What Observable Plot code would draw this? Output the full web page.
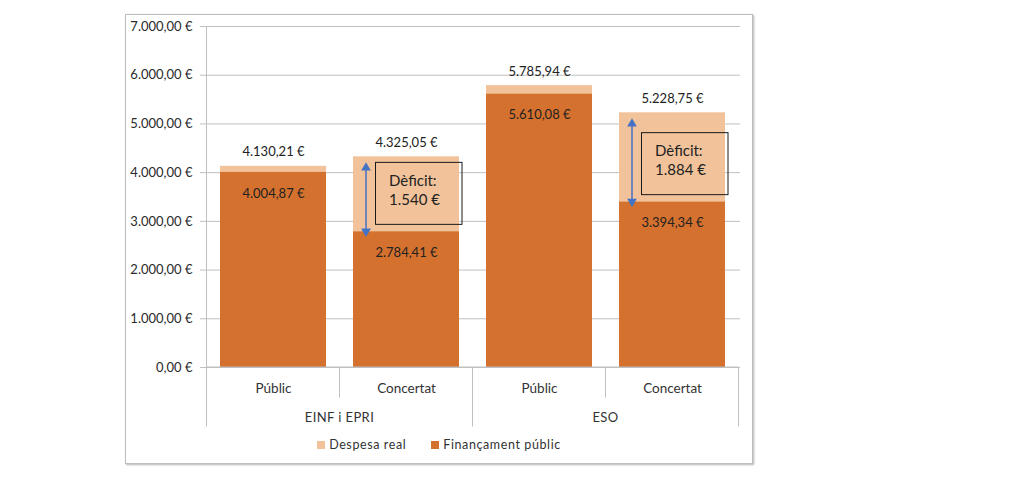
<!DOCTYPE html>
<html>
<head>
<meta charset="utf-8">
<script src="https://cdn.jsdelivr.net/npm/d3@7"></script>
<script src="https://cdn.jsdelivr.net/npm/@observablehq/plot@0.6"></script>
<style>
  body { margin: 0; background: #fff; font-family: Lato, "Noto Sans", sans-serif; }
  #frame {
    position: absolute; left: 125px; top: 14px; width: 626px; height: 448px;
    border: 1px solid #bdbdbd; box-shadow: 1px 1px 2px rgba(0,0,0,0.3); background: #fff;
  }
  #chart svg { display: block; }
  #legend {
    position: absolute; left: 0; right: 0; top: 423px; display: flex; justify-content: center;
    gap: 25px; font-size: 12.5px; line-height: 14px; color: #333; letter-spacing: 0.6px;
  }
  #legend span.item { display: flex; align-items: center; }
  #legend i { display: inline-block; width: 8px; height: 8px; margin-right: 4px; }
</style>
</head>
<body>
<div id="frame">
  <div id="chart"></div>
  <div id="legend"></div>
</div>
<script>
// Cost per pupil: actual spending vs. public funding, by stage and school type
const groups = ["EINF i EPRI", "EINF i EPRI", "ESO", "ESO"];
const types = ["Públic", "Concertat", "Públic", "Concertat"];
const despesaReal = [4130.21, 4325.05, 5785.94, 5228.75];
const financamentPublic = [4004.87, 2784.41, 5610.08, 3394.34];
const deficits = [null, 1540, null, 1884];
const yTicks = [0, 1000, 2000, 3000, 4000, 5000, 6000, 7000];
const seriesNames = ["Despesa real", "Finançament públic"];
const seriesColors = ["#f2c39b", "#d5712e"];

const locale = d3.formatLocale({decimal: ",", thousands: ".", grouping: [3], currency: ["", "\u00a0€"]});
const eur = locale.format(",.2f");
const eurInt = locale.format(",.0f");
const money = (v) => eur(v) + " €";

const rows = types.map((t, i) => ({
  key: groups[i] + "|" + t, group: groups[i], type: t,
  total: despesaReal[i], fin: financamentPublic[i], deficit: deficits[i]
}));
const keys = rows.map((d) => d.key);
const withDeficit = rows.filter((d) => d.deficit != null);

const grid = "#bfbfbf";
const ink = "#222";
const arrowBlue = "#4472c4";

const plot = Plot.plot({
  width: 626,
  height: 420,
  marginLeft: 79,
  marginRight: 12,
  marginTop: 11,
  marginBottom: 68,
  style: {fontFamily: "Lato, 'Noto Sans', sans-serif", fontSize: "13px", color: "#333", background: "transparent", overflow: "visible"},
  x: {domain: keys, paddingInner: 0.2, paddingOuter: 0.1, axis: null},
  y: {domain: [0, 7000], axis: null},
  marks: [
    Plot.ruleY(yTicks, {stroke: grid, strokeWidth: 1}),
    Plot.axisY(yTicks, {tickSize: 5, tickPadding: 8, tickFormat: money, stroke: grid, strokeOpacity: 1, fill: "#2a2a2a", fontSize: 13, label: null}),
    Plot.barY(rows, {x: "key", y: "total", fill: seriesColors[0]}),
    Plot.barY(rows, {x: "key", y: "fin", fill: seriesColors[1]}),
    Plot.text(rows, {x: "key", y: "total", text: (d) => money(d.total), dy: -14, fill: ink, fontSize: 13}),
    Plot.text(rows, {x: "key", y: "fin", text: (d) => money(d.fin), dy: 21, fill: ink, fontSize: 13}),
    // category labels under the baseline
    Plot.text(rows, {x: "key", y: () => 0, text: "type", dy: 21, fill: "#333", fontSize: 13.5, letterSpacing: 0.4}),
    // deficit callouts: box, text and double arrow
    Plot.barY(withDeficit, {x: "key", y1: "fin", y2: "fin", insetTop: -69, insetBottom: 7, insetLeft: 22.5, insetRight: -3, fill: "none", stroke: "#1a1a1a", strokeWidth: 1}),
    Plot.text(withDeficit, {x: "key", y: "fin", text: () => "Dèficit:", dx: -17.5, dy: -51, textAnchor: "start", fontSize: 15, fill: ink}),
    Plot.text(withDeficit, {x: "key", y: "fin", text: (d) => eurInt(d.deficit) + " €", dx: -17.5, dy: -32, textAnchor: "start", fontSize: 15, fill: ink}),
    Plot.ruleX(withDeficit, {x: "key", y1: "total", y2: "fin", dx: -40.5, insetTop: 8, insetBottom: -2, stroke: arrowBlue, strokeWidth: 1.5}),
    Plot.dot(withDeficit, {x: "key", y: "total", dx: -40.5, dy: 11, symbol: "triangle", r: 3.6, fill: arrowBlue, stroke: "none"}),
    Plot.dot(withDeficit, {x: "key", y: "fin", dx: -40.5, dy: -0.5, symbol: "triangle", rotate: 180, r: 3.6, fill: arrowBlue, stroke: "none"})
  ]
});

// Baseline, category separators and stage labels, placed from the plot's own scales
const xs = plot.scale("x");
const ys = plot.scale("y");
const svg = d3.select(plot);
const y0 = ys.apply(0);
const yTop = ys.apply(7000);
const g = svg.append("g").attr("stroke", grid).attr("stroke-width", 1);
const half = (xs.step - xs.bandwidth) / 2;
const lefts = keys.map((k) => xs.apply(k) - half);
const rightEnd = lefts[lefts.length - 1] + xs.step;
g.append("line").attr("x1", lefts[0]).attr("x2", rightEnd).attr("y1", y0).attr("y2", y0);
keys.forEach((k, i) => {
  const newGroup = i === 0 || rows[i].group !== rows[i - 1].group;
  g.append("line").attr("x1", lefts[i]).attr("x2", lefts[i])
    .attr("y1", i === 0 ? yTop : y0).attr("y2", y0 + (newGroup ? 59.5 : 30.5));
});
g.append("line").attr("x1", rightEnd).attr("x2", rightEnd).attr("y1", y0).attr("y2", y0 + 59.5);
const stageNames = Array.from(new Set(groups));
stageNames.forEach((name) => {
  const cx = d3.mean(rows.filter((d) => d.group === name), (d) => xs.apply(d.key) + xs.bandwidth / 2);
  svg.append("text").attr("x", cx).attr("y", y0 + 51).attr("dy", "0.32em")
    .attr("text-anchor", "middle").attr("fill", "#333").attr("font-size", 13)
    .attr("letter-spacing", 0.4).text(name);
});

document.getElementById("chart").appendChild(plot);

const legend = d3.select("#legend");
seriesNames.forEach((name, i) => {
  const item = legend.append("span").attr("class", "item");
  item.append("i").style("background", seriesColors[i]);
  item.append("span").text(name);
});
</script>
</body>
</html>
